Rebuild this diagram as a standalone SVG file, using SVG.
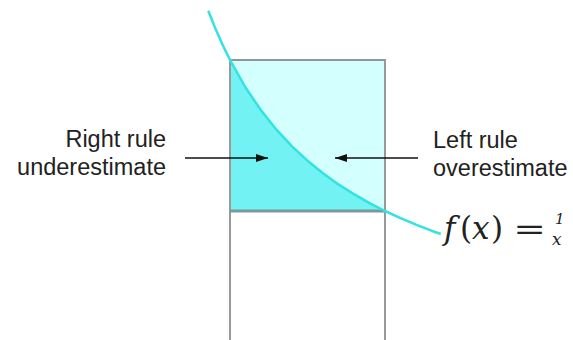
<svg xmlns="http://www.w3.org/2000/svg" width="573" height="340" viewBox="0 0 573 340">
<defs>
<style>
.lbl{font-family:"Liberation Sans",Arial,sans-serif;font-size:23.5px;fill:#222}
.math{font-family:"DejaVu Serif","Liberation Serif",serif;font-style:italic;fill:#222}
.arr{stroke:#111;stroke-width:1.5;fill:none}
</style>
<marker id="ah" markerWidth="12" markerHeight="8" refX="12" refY="4" orient="auto" markerUnits="userSpaceOnUse">
<path d="M0,0 L12,4 L0,8 Z" fill="#111"/>
</marker>
</defs>
<rect width="573" height="340" fill="#fff"/>
<g id="rect-upper">
<rect x="230" y="60" width="155" height="151" fill="#d4ffff" stroke="#8a9a9a" stroke-width="2"/>
</g>
<g id="area-under-curve">
<path d="M230,60 L245.5,87.5 L261,110.3 L276.5,129.7 L292,146.3 L307.5,160.7 L323,173.25 L338.5,184.4 L354,194.2 L369.5,203.1 L385,211 L230,211 Z" fill="#72f2f2"/>
</g>
<g id="rect-lower">
<line x1="230" y1="60" x2="230" y2="340" stroke="#999" stroke-width="2"/>
<line x1="385" y1="60" x2="385" y2="340" stroke="#999" stroke-width="2"/>
<line x1="230" y1="211" x2="385" y2="211" stroke="#7a9a9a" stroke-width="3"/>
</g>
<g id="curve">
<polyline points="208.3,10.8 214.5,26.4 222.25,44.1 230,60 245.5,87.5 261,110.3 276.5,129.7 292,146.3 307.5,160.7 323,173.25 338.5,184.4 354,194.2 369.5,203.1 385,211 400.5,218.2 416,224.7 431.5,230.7 440.8,234" fill="none" stroke="#33e2e2" stroke-width="2.5" stroke-linejoin="round"/>
</g>
<g id="connectors">
<line class="arr" x1="185" y1="158" x2="268" y2="158" marker-end="url(#ah)"/>
<line class="arr" x1="418" y1="158" x2="335" y2="158" marker-end="url(#ah)"/>
</g>
<g id="label-right-rule">
<text class="lbl" x="166" y="146.5" text-anchor="end">Right rule</text>
<text class="lbl" x="166" y="175" text-anchor="end">underestimate</text>
</g>
<g id="label-left-rule">
<text class="lbl" x="433" y="147.5">Left rule</text>
<text class="lbl" x="433" y="176">overestimate</text>
</g>
<g id="formula">
<text class="math" font-size="31" y="239"><tspan x="444">f</tspan><tspan x="460" font-style="normal">(</tspan><tspan x="472">x</tspan><tspan x="491" font-style="normal">)</tspan></text>
<text class="math" font-style="normal" font-size="30" x="529.5" y="239" text-anchor="middle" transform="translate(529.5,0) scale(1.3,1) translate(-529.5,0)">=</text>
<text class="math" font-style="normal" font-size="15" x="555" y="224">1</text>
<text class="math" font-size="17" x="552" y="245">x</text>
</g>
</svg>
